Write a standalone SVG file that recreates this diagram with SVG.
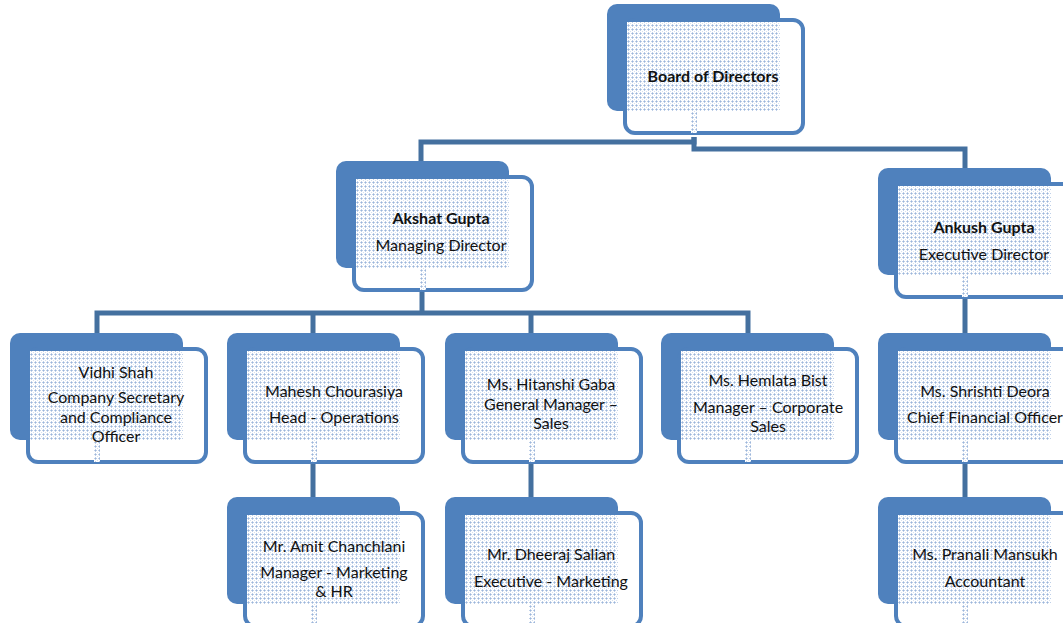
<svg xmlns="http://www.w3.org/2000/svg" xmlns:xlink="http://www.w3.org/1999/xlink" width="1063" height="623" viewBox="0 0 1063 623">
<style>
.back{fill:#4F81BD}
.front{fill:#ffffff;stroke:#4F81BD;stroke-width:4}
.pat{fill:url(#dots)}
.conn{fill:none;stroke:#44709F;stroke-width:5;stroke-linejoin:miter}
text{font-family:Lato,"Open Sans","Liberation Sans",sans-serif;font-size:16px;fill:#111;text-anchor:middle}
.b{font-weight:bold}
</style>
<defs>
<pattern id="dots" width="4" height="4" patternUnits="userSpaceOnUse">
<rect width="4" height="4" fill="#ffffff"/>
<rect x="1" y="0" width="1" height="3" fill="#bfd0e8"/>
<rect x="0" y="1" width="3" height="1" fill="#bfd0e8"/>
<rect x="1" y="1" width="1" height="1" fill="#9db6da"/>
<rect x="3" y="3" width="1" height="1" fill="#d6e1f0"/>
</pattern>
<g id="box">
<rect class="back" x="0" y="0" width="173" height="107" rx="10"/>
<rect class="front" x="18" y="16" width="178" height="113" rx="10"/>
<rect class="pat" x="20" y="18" width="153" height="89"/>
<rect class="pat" x="84" y="107" width="6" height="22"/>
</g>
</defs>
<rect width="1063" height="623" fill="#ffffff"/>
<g id="connectors">
<path class="conn" d="M694,137 V142 H421 V162"/>
<path class="conn" d="M694,137 V149 H965 V169"/>
<path class="conn" d="M422,292 V313 M97,334 V313 H748 V334 M313,313 V334 M531,313 V334"/>
<path class="conn" d="M313,463 V498 M531,463 V498"/>
<path class="conn" d="M965,298 V334 M965,460 V498"/>
</g>
<g id="board" transform="translate(607,4)"><use href="#box"/></g>
<text class="b" x="713" y="82">Board of Directors</text>
<g id="akshat" transform="translate(336,161)"><use href="#box"/></g>
<text class="b" x="441" y="224">Akshat Gupta</text>
<text x="441" y="251">Managing Director</text>
<g id="ankush" transform="translate(878,168)"><use href="#box"/></g>
<text class="b" x="984" y="233">Ankush Gupta</text>
<text x="984" y="260">Executive Director</text>
<g id="vidhi" transform="translate(10,333)"><use href="#box"/></g>
<text x="116" y="378">Vidhi Shah</text>
<text x="116" y="403">Company Secretary</text>
<text x="116" y="423">and Compliance</text>
<text x="116" y="442">Officer</text>
<g id="mahesh" transform="translate(227,333)"><use href="#box"/></g>
<text x="334" y="397">Mahesh Chourasiya</text>
<text x="334" y="423">Head - Operations</text>
<g id="hitanshi" transform="translate(445,333)"><use href="#box"/></g>
<text x="551" y="390">Ms. Hitanshi Gaba</text>
<text x="551" y="410">General Manager –</text>
<text x="551" y="429">Sales</text>
<g id="hemlata" transform="translate(661,333)"><use href="#box"/></g>
<text x="768" y="386">Ms. Hemlata Bist</text>
<text x="768" y="413">Manager – Corporate</text>
<text x="768" y="432">Sales</text>
<g id="shrishti" transform="translate(878,333)"><use href="#box"/></g>
<text x="985" y="397">Ms. Shrishti Deora</text>
<text x="985" y="423">Chief Financial Officer</text>
<g id="amit" transform="translate(227,497)"><use href="#box"/></g>
<text x="334" y="552">Mr. Amit Chanchlani</text>
<text x="334" y="578">Manager - Marketing</text>
<text x="334" y="597">&amp; HR</text>
<g id="dheeraj" transform="translate(445,497)"><use href="#box"/></g>
<text x="551" y="560">Mr. Dheeraj Salian</text>
<text x="551" y="587">Executive - Marketing</text>
<g id="pranali" transform="translate(878,497)"><use href="#box"/></g>
<text x="985" y="560">Ms. Pranali Mansukh</text>
<text x="985" y="587">Accountant</text>
</svg>
